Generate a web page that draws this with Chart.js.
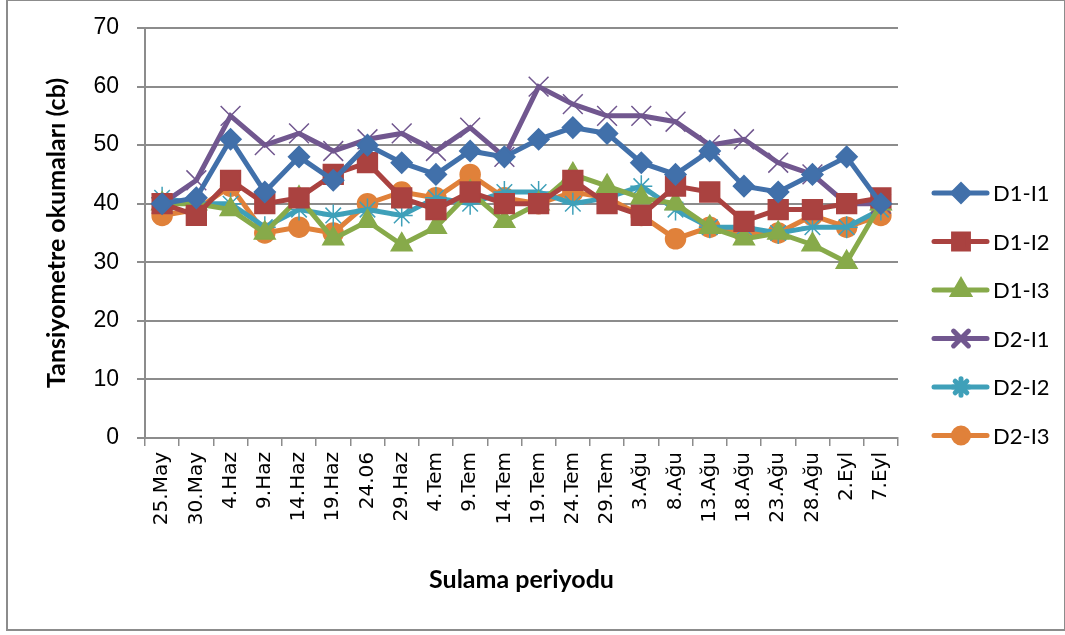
<!DOCTYPE html>
<html>
<head>
<meta charset="utf-8">
<script src="https://cdn.jsdelivr.net/npm/chart.js@4"></script>
<style>
  body { margin: 0; background: #fff; }
  #frame { position: absolute; left: 6px; top: -1px; width: 1060px; height: 632px; box-sizing: border-box; border: 2px solid #8c8c8c; }
  #wrap { position: absolute; left: 0; top: 0; width: 1065px; height: 635px; }
</style>
</head>
<body>
<div id="frame"></div>
<div id="wrap"><canvas id="chart"></canvas></div>
<script>
// Sulama periyodu tarihleri
const dates = ["25.May", "30.May", "4.Haz", "9.Haz", "14.Haz", "19.Haz", "24.06", "29.Haz", "4.Tem", "9.Tem", "14.Tem",
    "19.Tem", "24.Tem", "29.Tem", "3.Ağu", "8.Ağu", "13.Ağu", "18.Ağu", "23.Ağu", "28.Ağu", "2.Eyl", "7.Eyl"];

const d1i1 = [40, 41, 51, 42, 48, 44, 50, 47, 45, 49, 48, 51, 53, 52, 47, 45, 49, 43, 42, 45, 48, 40];
const d1i2 = [40, 38, 44, 40, 41, 45, 47, 41, 39, 42, 40, 40, 44, 40, 38, 43, 42, 37, 39, 39, 40, 41];
const d1i3 = [40, 40, 39, 35, 41, 34, 37, 33, 36, 42, 37, 40, 45, 43, 41, 40, 36, 34, 35, 33, 30, 40];
const d2i1 = [40, 44, 55, 50, 52, 49, 51, 52, 49, 53, 48, 60, 57, 55, 55, 54, 50, 51, 47, 45, 40, 40];
const d2i2 = [41, 40, 40, 36, 39, 38, 39, 38, 41, 40, 42, 42, 40, 41, 43, 39, 36, 36, 35, 36, 36, 39];
const d2i3 = [38, 39, 43, 35, 36, 35, 40, 42, 41, 45, 41, 40, 42, 41, 38, 34, 36, 35, 35, 38, 36, 38];

const yTicks = [0, 10, 20, 30, 40, 50, 60, 70];

const series = [
    { label: "D1-I1", data: d1i1, color: "#4170aa", style: "rectRot", r: 10.5 },
    { label: "D1-I2", data: d1i2, color: "#aa4240", style: "rect", r: 14 },
    { label: "D1-I3", data: d1i3, color: "#87aa4a", style: "triangle", r: 12 },
    { label: "D2-I1", data: d2i1, color: "#71578f", style: "crossRot", r: 14 },
    { label: "D2-I2", data: d2i2, color: "#3fa0b9", style: "star", r: 11 },
    { label: "D2-I3", data: d2i3, color: "#e0813a", style: "circle", r: 10 }
];

const gray = "#8c8c8c";

// legend cizimi (cizgi + isaret)
const sideLegend = {
    id: "sideLegend",
    afterDraw(chart) {
        const ctx = chart.ctx;
        const x0 = 934, y0 = 193, step = 48.5;
        series.forEach(function (s, i) {
            const y = y0 + i * step;
            ctx.save();
            ctx.strokeStyle = s.color;
            ctx.lineWidth = 5;
            ctx.lineCap = "round";
            ctx.beginPath();
            ctx.moveTo(x0, y);
            ctx.lineTo(x0 + 53, y);
            ctx.stroke();
            ctx.fillStyle = s.color;
            Chart.helpers.drawPoint(ctx, {
                pointStyle: s.style, radius: s.r * 0.75, rotation: 0, borderWidth: 2
            }, x0 + 27, y);
            ctx.fillStyle = "#000";
            ctx.font = "22px Lato, sans-serif";
            ctx.textBaseline = "middle";
            ctx.fillText(s.label, x0 + 59, y + 1);
            ctx.restore();
        });
    }
};

document.addEventListener("DOMContentLoaded", function () {
    new Chart(document.getElementById("chart"), {
        type: "line",
        data: {
            labels: dates,
            datasets: series.map(function (s) {
                return {
                    label: s.label,
                    data: s.data,
                    borderColor: s.color,
                    backgroundColor: s.color,
                    borderWidth: 5,
                    pointStyle: s.style,
                    pointRadius: s.r,
                    pointBorderWidth: 1.5,
                    tension: 0
                };
            })
        },
        options: {
            responsive: true,
            maintainAspectRatio: false,
            animation: false,
            layout: { padding: { left: 38, top: 28, right: 167, bottom: 36 } },
            plugins: { legend: { display: false }, tooltip: { enabled: false } },
            scales: {
                x: {
                    offset: true,
                    grid: { offset: true, drawOnChartArea: false, color: gray, lineWidth: 1.5, tickLength: 8 },
                    border: { color: gray, width: 2 },
                    ticks: {
                        minRotation: 90, maxRotation: 90, autoSkip: false, padding: 6,
                        color: "#000", font: { family: "DejaVu Sans", size: 20 }
                    },
                    title: {
                        display: true, text: "Sulama periyodu", color: "#000",
                        font: { family: "Lato", size: 25, weight: "bold" }, padding: { top: 4, bottom: 4 }
                    },
                    afterFit: function (scale) { scale.height = 161; }
                },
                y: {
                    min: 0, max: 70,
                    afterBuildTicks: function (scale) {
                        scale.ticks = yTicks.map(function (v) { return { value: v }; });
                    },
                    grid: { color: gray, lineWidth: 2, tickLength: 8 },
                    border: { color: gray, width: 2 },
                    ticks: { color: "#000", padding: 18, font: { family: "Liberation Sans", size: 23 } },
                    title: {
                        display: true, text: "Tansiyometre okumaları (cb)", color: "#000",
                        font: { family: "Lato", size: 25, weight: "bold" }, padding: { top: 4, bottom: 4 }
                    },
                    afterFit: function (scale) {
                        scale.width = 107;
                        scale.paddingTop = 0;
                        scale.paddingBottom = 0;
                    }
                }
            }
        },
        plugins: [sideLegend]
    });
});
</script>
</body>
</html>
